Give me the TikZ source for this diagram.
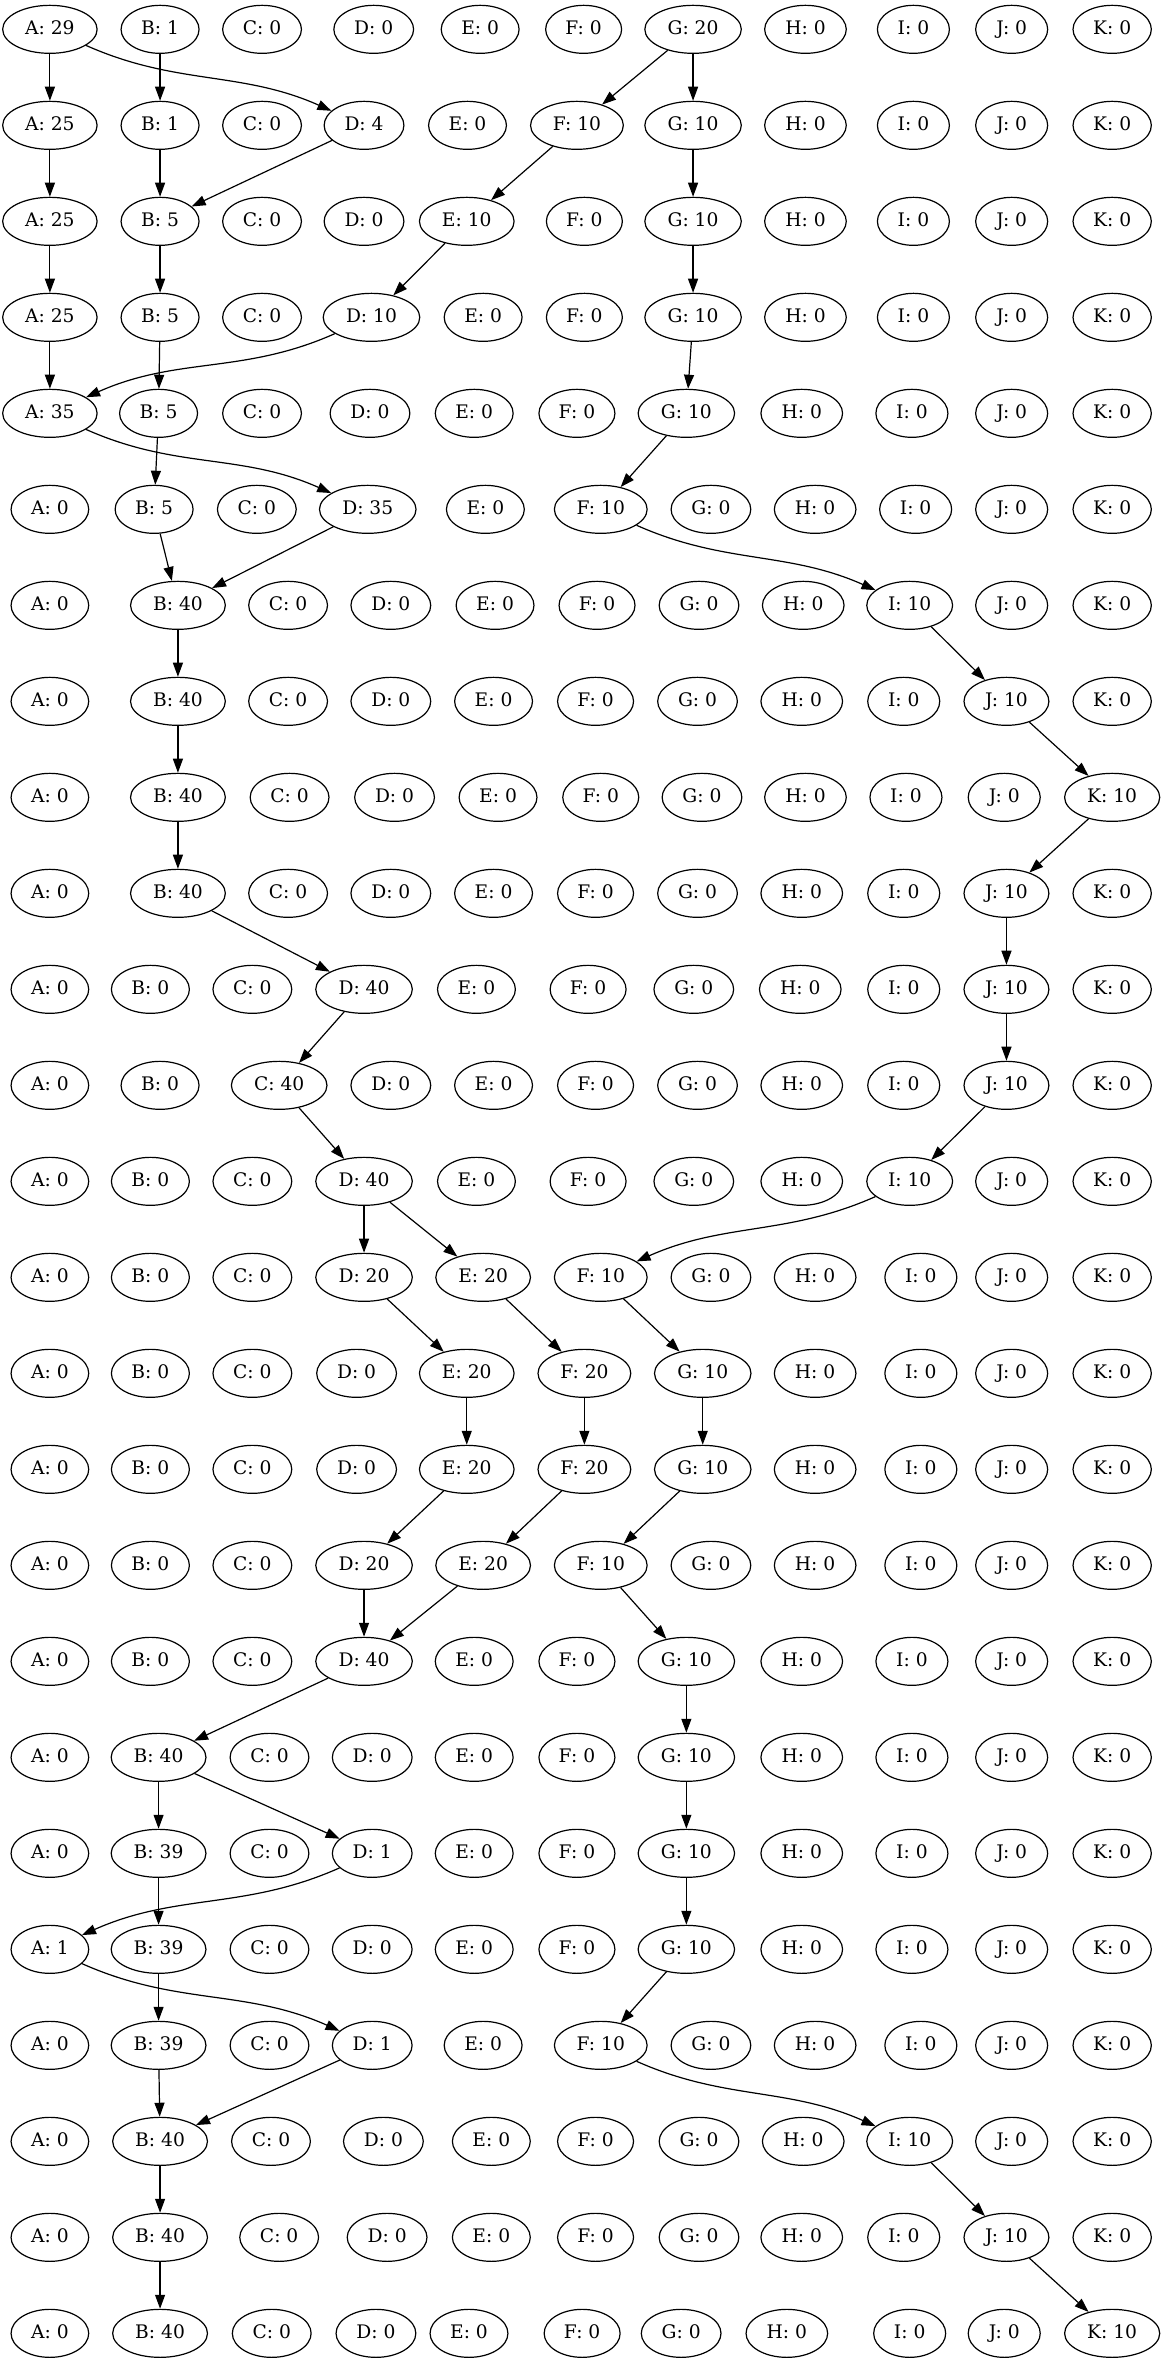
\documentclass[tikz,border=0pt]{standalone}
\usepackage{fontspec}
\setmainfont{DejaVu Serif}
\usetikzlibrary{arrows.meta,shapes.geometric}
\tikzset{
  gv/.style={draw, line width=0.9pt, ellipse, minimum height=36pt, minimum width=54pt,
    inner xsep=6.5pt, inner ysep=3pt, text height=10.2pt, text depth=2.2pt,
    font=\fontsize{14pt}{16pt}\selectfont},
  ed/.style={draw, line width=0.9pt, -{Triangle[length=10.5pt,width=7.5pt]}},
}
\newcommand\gvrow[2]{%
  \foreach \L/\n/\val/\xx in {#2} {
    \node[gv] (\n#1) at (\xx,{22+72*(#1-1)}) {\L: \val};
  }}
\begin{document}
\begin{tikzpicture}
\path[use as bounding box] (0pt,0pt) rectangle (871.5pt,-1772.25pt);
\begin{scope}[x=0.5583pt,y=-1pt,shift={(-1.66pt,0pt)}]
\gvrow{1}{A/a/29/70, B/b/1/218, C/c/0/355, D/d/0/505, E/e/0/648, F/f/0/787, G/g/20/934, H/h/0/1085, I/i/0/1230, J/j/0/1362, K/k/0/1497}
\gvrow{2}{A/a/25/70, B/b/1/218, C/c/0/355, D/d/4/492, E/e/0/631, F/f/10/778, G/g/10/934, H/h/0/1085, I/i/0/1230, J/j/0/1362, K/k/0/1497}
\gvrow{3}{A/a/25/70, B/b/5/218, C/c/0/355, D/d/0/492, E/e/10/630, F/f/0/788, G/g/10/934, H/h/0/1085, I/i/0/1230, J/j/0/1362, K/k/0/1497}
\gvrow{4}{A/a/25/70, B/b/5/218, C/c/0/355, D/d/10/502, E/e/0/652, F/f/0/788, G/g/10/934, H/h/0/1085, I/i/0/1230, J/j/0/1362, K/k/0/1497}
\gvrow{5}{A/a/35/70, B/b/5/216, C/c/0/355, D/d/0/500, E/e/0/640, F/f/0/778, G/g/10/925, H/h/0/1080, I/i/0/1228, J/j/0/1362, K/k/0/1497}
\gvrow{6}{A/a/0/70, B/b/5/210, C/c/0/348, D/d/35/497, E/e/0/655, F/f/10/810, G/g/0/958, H/h/0/1098, I/i/0/1233, J/j/0/1362, K/k/0/1497}
\gvrow{7}{A/a/0/70, B/b/40/242, C/c/0/390, D/d/0/528, E/e/0/668, F/f/0/805, G/g/0/942, H/h/0/1082, I/i/10/1225, J/j/0/1362, K/k/0/1497}
\gvrow{8}{A/a/0/70, B/b/40/242, C/c/0/390, D/d/0/528, E/e/0/666, F/f/0/803, G/g/0/940, H/h/0/1080, I/i/0/1217, J/j/10/1355, K/k/0/1497}
\gvrow{9}{A/a/0/70, B/b/40/242, C/c/0/392, D/d/0/533, E/e/0/672, F/f/0/810, G/g/0/946, H/h/0/1085, I/i/0/1220, J/j/0/1352, K/k/10/1497}
\gvrow{10}{A/a/0/70, B/b/40/242, C/c/0/390, D/d/0/528, E/e/0/666, F/f/0/803, G/g/0/940, H/h/0/1080, I/i/0/1217, J/j/10/1355, K/k/0/1497}
\gvrow{11}{A/a/0/70, B/b/0/205, C/c/0/342, D/d/40/492, E/e/0/643, F/f/0/793, G/g/0/935, H/h/0/1078, I/i/0/1217, J/j/10/1355, K/k/0/1497}
\gvrow{12}{A/a/0/70, B/b/0/218, C/c/40/378, D/d/0/528, E/e/0/666, F/f/0/803, G/g/0/940, H/h/0/1080, I/i/0/1217, J/j/10/1355, K/k/0/1497}
\gvrow{13}{A/a/0/70, B/b/0/205, C/c/0/342, D/d/40/492, E/e/0/643, F/f/0/793, G/g/0/935, H/h/0/1080, I/i/10/1225, J/j/0/1362, K/k/0/1497}
\gvrow{14}{A/a/0/70, B/b/0/205, C/c/0/342, D/d/20/492, E/e/20/652, F/f/10/810, G/g/0/958, H/h/0/1098, I/i/0/1240, J/j/0/1362, K/k/0/1497}
\gvrow{15}{A/a/0/70, B/b/0/205, C/c/0/342, D/d/0/482, E/e/20/630, F/f/20/788, G/g/10/947, H/h/0/1098, I/i/0/1240, J/j/0/1362, K/k/0/1497}
\gvrow{16}{A/a/0/70, B/b/0/205, C/c/0/342, D/d/0/482, E/e/20/630, F/f/20/788, G/g/10/947, H/h/0/1098, I/i/0/1240, J/j/0/1362, K/k/0/1497}
\gvrow{17}{A/a/0/70, B/b/0/205, C/c/0/342, D/d/20/492, E/e/20/652, F/f/10/810, G/g/0/958, H/h/0/1098, I/i/0/1240, J/j/0/1362, K/k/0/1497}
\gvrow{18}{A/a/0/70, B/b/0/205, C/c/0/342, D/d/40/492, E/e/0/640, F/f/0/778, G/g/10/925, H/h/0/1080, I/i/0/1228, J/j/0/1362, K/k/0/1497}
\gvrow{19}{A/a/0/70, B/b/40/216, C/c/0/365, D/d/0/503, E/e/0/640, F/f/0/778, G/g/10/925, H/h/0/1080, I/i/0/1228, J/j/0/1362, K/k/0/1497}
\gvrow{20}{A/a/0/70, B/b/39/216, C/c/0/365, D/d/1/503, E/e/0/640, F/f/0/778, G/g/10/925, H/h/0/1080, I/i/0/1228, J/j/0/1362, K/k/0/1497}
\gvrow{21}{A/a/1/70, B/b/39/216, C/c/0/365, D/d/0/503, E/e/0/640, F/f/0/778, G/g/10/925, H/h/0/1080, I/i/0/1228, J/j/0/1362, K/k/0/1497}
\gvrow{22}{A/a/0/70, B/b/39/216, C/c/0/365, D/d/1/503, E/e/0/652, F/f/10/810, G/g/0/958, H/h/0/1098, I/i/0/1240, J/j/0/1362, K/k/0/1497}
\gvrow{23}{A/a/0/70, B/b/40/218, C/c/0/367, D/d/0/518, E/e/0/663, F/f/0/803, G/g/0/942, H/h/0/1082, I/i/10/1225, J/j/0/1362, K/k/0/1497}
\gvrow{24}{A/a/0/70, B/b/40/218, C/c/0/378, D/d/0/523, E/e/0/663, F/f/0/803, G/g/0/942, H/h/0/1080, I/i/0/1217, J/j/10/1355, K/k/0/1497}
\gvrow{25}{A/a/0/70, B/b/40/218, C/c/0/368, D/d/0/508, E/e/0/633, F/f/0/785, G/g/0/918, H/h/0/1060, I/i/0/1225, J/j/0/1352, K/k/10/1497}
\end{scope}
% edges
\draw[ed] (a1) -- (a2);
\draw[ed] (a1) to[out=-24,in=156] (d2);
\draw[ed] (b1) -- (b2);
\draw[ed] (g1) -- (f2);
\draw[ed] (g1) -- (g2);
\draw[ed] (a2) -- (a3);
\draw[ed] (b2) -- (b3);
\draw[ed] (d2) -- (b3);
\draw[ed] (f2) -- (e3);
\draw[ed] (g2) -- (g3);
\draw[ed] (a3) -- (a4);
\draw[ed] (b3) -- (b4);
\draw[ed] (e3) -- (d4);
\draw[ed] (g3) -- (g4);
\draw[ed] (a4) -- (a5);
\draw[ed] (b4) -- (b5);
\draw[ed] (d4) to[out=-156,in=24] (a5);
\draw[ed] (g4) -- (g5);
\draw[ed] (a5) to[out=-24,in=156] (d6);
\draw[ed] (b5) -- (b6);
\draw[ed] (g5) -- (f6);
\draw[ed] (b6) -- (b7);
\draw[ed] (d6) -- (b7);
\draw[ed] (f6) to[out=-24,in=156] (i7);
\draw[ed] (b7) -- (b8);
\draw[ed] (i7) -- (j8);
\draw[ed] (b8) -- (b9);
\draw[ed] (j8) -- (k9);
\draw[ed] (b9) -- (b10);
\draw[ed] (k9) -- (j10);
\draw[ed] (b10) -- (d11);
\draw[ed] (j10) -- (j11);
\draw[ed] (d11) -- (c12);
\draw[ed] (j11) -- (j12);
\draw[ed] (c12) -- (d13);
\draw[ed] (j12) -- (i13);
\draw[ed] (d13) -- (d14);
\draw[ed] (d13) -- (e14);
\draw[ed] (i13) to[out=-156,in=24] (f14);
\draw[ed] (d14) -- (e15);
\draw[ed] (e14) -- (f15);
\draw[ed] (f14) -- (g15);
\draw[ed] (e15) -- (e16);
\draw[ed] (f15) -- (f16);
\draw[ed] (g15) -- (g16);
\draw[ed] (e16) -- (d17);
\draw[ed] (f16) -- (e17);
\draw[ed] (g16) -- (f17);
\draw[ed] (d17) -- (d18);
\draw[ed] (e17) -- (d18);
\draw[ed] (f17) -- (g18);
\draw[ed] (d18) -- (b19);
\draw[ed] (g18) -- (g19);
\draw[ed] (b19) -- (b20);
\draw[ed] (b19) -- (d20);
\draw[ed] (g19) -- (g20);
\draw[ed] (b20) -- (b21);
\draw[ed] (d20) to[out=-156,in=24] (a21);
\draw[ed] (g20) -- (g21);
\draw[ed] (a21) to[out=-24,in=156] (d22);
\draw[ed] (b21) -- (b22);
\draw[ed] (g21) -- (f22);
\draw[ed] (b22) -- (b23);
\draw[ed] (d22) -- (b23);
\draw[ed] (f22) to[out=-24,in=156] (i23);
\draw[ed] (b23) -- (b24);
\draw[ed] (i23) -- (j24);
\draw[ed] (b24) -- (b25);
\draw[ed] (j24) -- (k25);
\end{tikzpicture}
\end{document}
